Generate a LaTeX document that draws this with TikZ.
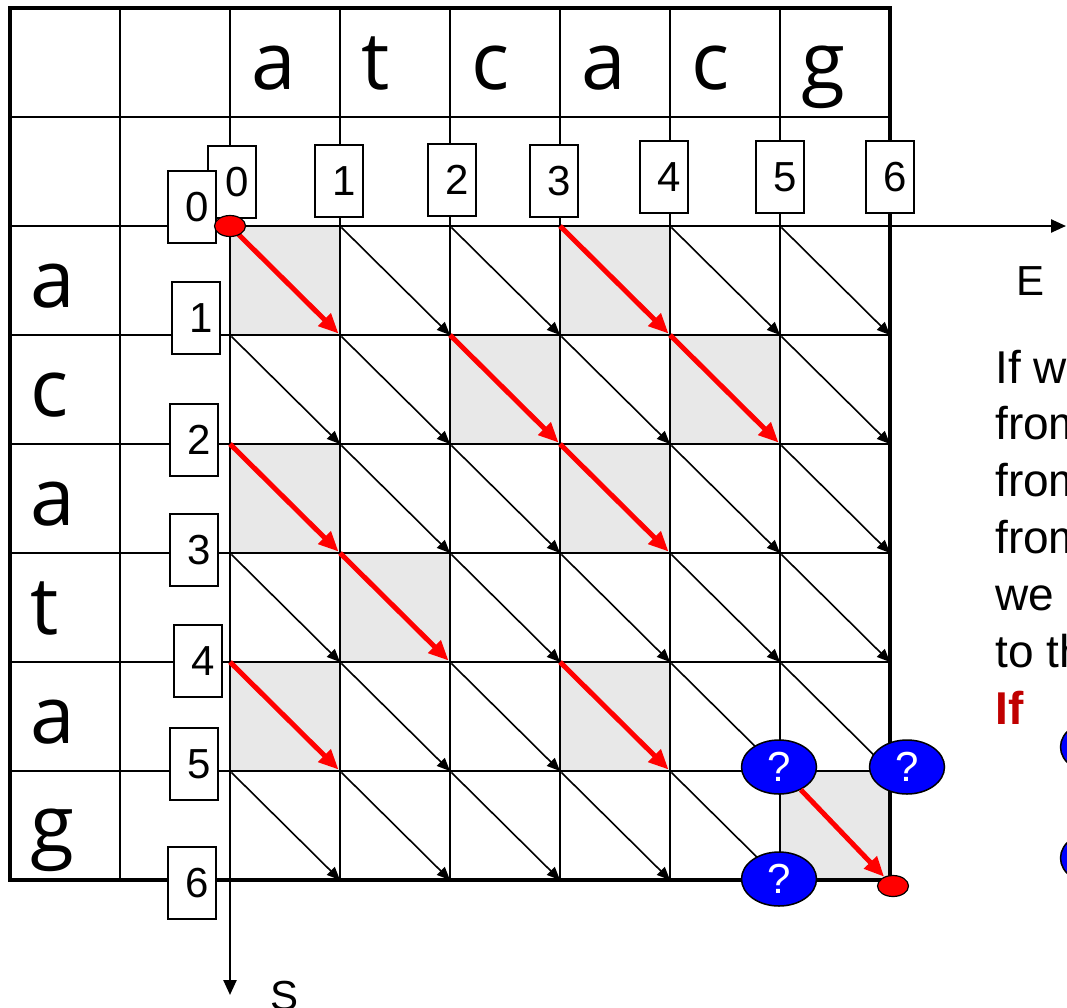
\documentclass[tikz,border=0pt]{standalone}
\usepackage{fontspec}
\setmainfont{Liberation Sans}
\newfontfamily\seqfont{Open Sans}
\usepackage{tikz}
\usetikzlibrary{arrows.meta,shapes.geometric}
\definecolor{cellgray}{HTML}{E8E8E8}
\definecolor{ifred}{HTML}{C00000}
\tikzset{
  gridline/.style={line width=1.8pt},
  border/.style={line width=4.5pt},
  axis/.style={line width=2.4pt, -{Triangle[length=15pt,width=13pt]}},
  idxbox/.style={draw, line width=1.2pt, fill=white, minimum width=48pt,
                 minimum height=72pt, inner sep=0pt, font=\fontsize{42}{50}\selectfont,
                 execute at begin node=\kern10pt},
  seqletter/.style={anchor=base west, inner sep=0pt, font=\seqfont\fontsize{80}{96}\selectfont},
  diag/.style={line width=1.6pt, -{Triangle[length=13pt,width=11pt]}, shorten <=2pt},
  matcharrow/.style={red, line width=5pt, -{Triangle[length=20pt,width=17pt]}, shorten >=2pt},
  matchcell/.style={fill=cellgray},
  qnode/.style={ellipse, draw, line width=1.5pt, fill=blue, text=white, minimum width=75pt,
                minimum height=54pt, inner sep=0pt, font=\fontsize{42}{50}\selectfont},
  enddot/.style={ellipse, draw, line width=1.2pt, fill=red, minimum width=31pt,
                 minimum height=21pt, inner sep=0pt},
  note/.style={anchor=base west, inner sep=0pt, font=\fontsize{46}{54}\selectfont},
}
\begin{document}
\begin{tikzpicture}[x=1pt, y=-1pt]
  \useasboundingbox (0,0) rectangle (1067,1007);
  \clip (0,0) rectangle (1067,1007);
  % grid points of the edit graph
  \foreach \i in {0,...,6}
    \foreach \j in {0,...,6}
      \coordinate (n-\i-\j) at ({230+110*\j},{226+109*\i});
  % shaded cells where the letters match
  \foreach \i/\j in {0/0,0/3,1/2,1/4,2/0,2/3,3/1,4/0,4/3,5/5}
    \fill[matchcell] (n-\i-\j) rectangle ++(110,109);
  % table
  \foreach \k in {1,...,7} {
    \draw[gridline] ({10+110*\k},8) -- ({10+110*\k},880);
    \draw[gridline] (10,{8+109*\k}) -- (890,{8+109*\k});
  }
  \draw[border] (10,8) rectangle (890,880);
  \foreach \l [count=\j from 0] in {a,t,c,a,c,g}
    \node[seqletter] (top-\j) at ({251+110*\j},89) {\l};
  \foreach \l [count=\i from 0] in {a,c,a,t,a,g}
    \node[seqletter] (left-\i) at (30,{307+109*\i}) {\l};
  % diagonal moves
  \foreach \i/\cols in {0/{1,2,4,5},1/{0,1,3,5},2/{1,2,4,5},3/{0,2,3,4,5},4/{1,2,4,5},5/{0,1,2,3,4}}
    \foreach \j in \cols {
      \pgfmathtruncatemacro\ni{\i+1}
      \pgfmathtruncatemacro\nj{\j+1}
      \draw[diag] (n-\i-\j) -- (n-\ni-\nj);
    }
  % axes
  \coordinate (east end) at (1066,226);
  \coordinate (south end) at (230,995);
  \draw[axis] (n-0-0) -- (east end);
  \draw[axis] (n-0-0) -- (south end);
  \node[note, font=\fontsize{42}{50}\selectfont] (east label) at (1016,295) {E};
  \node[note, font=\fontsize{42}{50}\selectfont] (south label) at (270,1010) {S};
  % matching moves
  \foreach \i/\j in {0/0,0/3,1/2,1/4,2/0,2/3,3/1,4/0,4/3} {
    \pgfmathtruncatemacro\ni{\i+1}
    \pgfmathtruncatemacro\nj{\j+1}
    \draw[matcharrow] (n-\i-\j) -- (n-\ni-\nj);
  }
  % index boxes
  \foreach \n/\x/\y in {0/232/182,1/339/181,2/452/180,3/554/181,4/664/177,5/780/177,6/890/177}
    \node[idxbox] (col-\n) at (\x,\y) {\n};
  \foreach \n/\x/\y in {0/192/207,1/196/318,2/194/440,3/194/550,4/198/661,5/194/764,6/192/883}
    \node[idxbox] (row-\n) at (\x,\y) {\n};
  % end points
  \node[enddot] (start) at (230,226) {};
  \node[enddot] (stop) at (893,886) {};
  \node[qnode] (q-diag) at (779,767) {?};
  \node[qnode] (q-up) at (907,767) {?};
  \node[qnode] (q-left) at (779,879) {?};
  \node[qnode] (q-a) at (1098,747) {};
  \node[qnode] (q-b) at (1098,858) {};
  \draw[matcharrow, shorten >=0pt] (q-diag) -- (stop);
  % note on the right
  \foreach \t [count=\k from 0] in {If w,from,from,from,we,to th}
    \node[note] (text-\k) at (995,{383+56.8*\k}) {\t};
  \node[note, text=ifred, font=\bfseries\fontsize{46}{54}\selectfont] (text-if) at (995,724) {If};
\end{tikzpicture}
\end{document}
